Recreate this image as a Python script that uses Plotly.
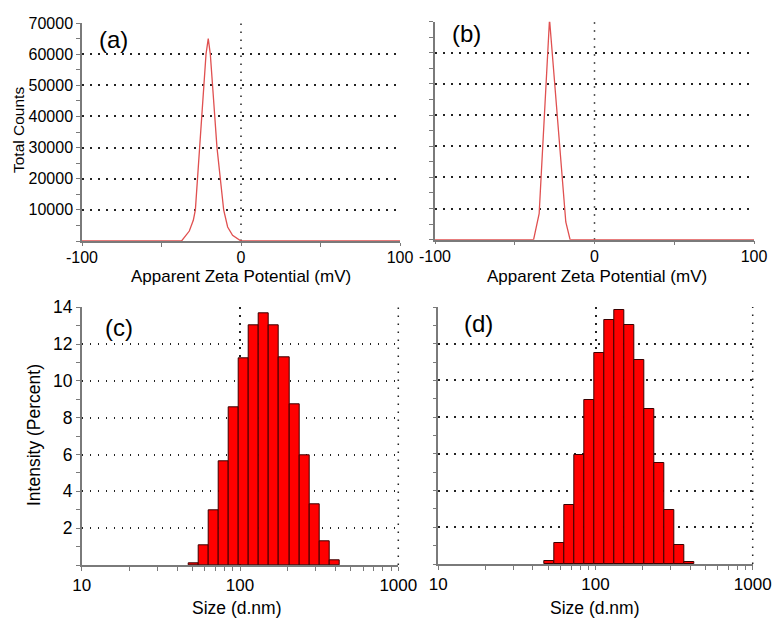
import numpy as np
import plotly.graph_objects as go

# ---------------- data ----------------
zeta_a_mv = [-100, -37.4, -32.5, -30.0, -28.7, -26.0, -23.5, -22.0, -20.6, -19.3, -17.9, -15.1, -10.9, -8.4, -5.3, 0, 100]
counts_a = [0, 0, 3200, 6650, 10000, 30000, 50000, 60000, 65000, 60000, 50000, 30000, 10000, 4500, 1800, 0, 0]

zeta_b_mv = [-100, -38.2, -34.7, -28.2, -25.7, -18.0, -15.3, 100]
counts_b = [0, 0, 8350, 70800, 54900, 5680, 0, 0]

sizes_nm = [50.75, 58.77, 68.06, 78.82, 91.28, 105.7, 122.4, 141.8, 164.2, 190.1, 220.2, 255.0, 295.3, 342.0, 396.1]
intensity_c = [0.07, 1.05, 2.99, 5.62, 8.59, 11.21, 13.04, 13.70, 13.04, 11.30, 8.73, 5.94, 3.30, 1.30, 0.27]
intensity_d = [0.16, 1.13, 3.20, 5.96, 8.95, 11.51, 13.27, 13.82, 13.04, 11.11, 8.47, 5.51, 2.93, 1.04, 0.09]

zeta_ticks = [-100, 0, 100]
zeta_tick_labels = ["-100", "0", "100"]
count_ticks = [10000, 20000, 30000, 40000, 50000, 60000, 70000]
size_ticks = [10, 100, 1000]
size_tick_labels = ["10", "100", "1000"]
intensity_ticks = [2, 4, 6, 8, 10, 12, 14]

panel_labels = ["(a)", "(b)", "(c)", "(d)"]

# ---------------- styling ----------------
W, H = 777, 619
FONT = "Arial, 'Liberation Sans', sans-serif"
AXIS_COLOR = "#7a7a7a"
DOTS = "1.5px,6.5px"
GRID = dict(showgrid=True, gridcolor="#222222", gridwidth=1.5, griddash=DOTS)

def px_x(p):
    return p / W

def px_y(p):
    return 1 - p / H

# bar geometry on log axis
s = np.array(sizes_nm)
step = np.exp(np.mean(np.diff(np.log(s))))
half = np.sqrt(step)
lower = s / half
upper = s * half
widths = upper - lower
offsets = lower - s

fig = go.Figure()

line_style = dict(color="#e05050", width=1.3)
fig.add_trace(go.Scatter(x=zeta_a_mv, y=counts_a, mode="lines", line=line_style,
                         xaxis="x", yaxis="y", showlegend=False))
fig.add_trace(go.Scatter(x=zeta_b_mv, y=counts_b, mode="lines", line=line_style,
                         xaxis="x2", yaxis="y2", showlegend=False))

bar_style = dict(color="#ff0000", line=dict(color="#3a0000", width=1))
fig.add_trace(go.Bar(x=sizes_nm, y=intensity_c, width=widths, offset=offsets,
                     marker=bar_style, xaxis="x3", yaxis="y3", showlegend=False))
fig.add_trace(go.Bar(x=sizes_nm, y=intensity_d, width=widths, offset=offsets,
                     marker=bar_style, xaxis="x4", yaxis="y4", showlegend=False))

def common(fs, tl):
    return dict(ticks="outside", ticklen=tl, tickcolor=AXIS_COLOR, tickwidth=1.2,
                showline=True, linecolor=AXIS_COLOR, linewidth=1.5, zeroline=False,
                automargin=False, tickfont=dict(size=fs, color="#000"))

def zeta_x(domain, anchor):
    return dict(domain=domain, anchor=anchor, range=[-100, 100], tickmode="array",
                tickvals=zeta_ticks, ticktext=zeta_tick_labels, showgrid=False,
                layer="below traces", ticklabelstandoff=-2,
                minor=dict(tickvals=[-50, 50], ticks="outside", ticklen=4, tickcolor=AXIS_COLOR),
                **common(16, 3))

def count_y(domain, anchor, labels):
    return dict(domain=domain, anchor=anchor, range=[0, 70000], tickmode="array",
                tickvals=count_ticks,
                ticktext=[str(v) for v in count_ticks] if labels else [""] * len(count_ticks),
                minor=dict(tickvals=[0, 5000, 15000, 25000, 35000, 45000, 55000, 65000],
                           ticks="outside", ticklen=4, tickcolor=AXIS_COLOR, showgrid=False),
                **GRID, **common(16, 4))

def size_x(domain, anchor):
    minor_vals = [20, 30, 40, 50, 60, 70, 80, 90, 200, 300, 400, 500, 600, 700, 800, 900]
    return dict(domain=domain, anchor=anchor, type="log", range=[1, 3], tickmode="array",
                tickvals=size_ticks, ticktext=size_tick_labels,
                minor=dict(tickvals=minor_vals, ticks="outside", ticklen=4, tickcolor=AXIS_COLOR,
                           showgrid=False),
                **GRID, **common(17, 4))

def intensity_y(domain, anchor, labels):
    return dict(domain=domain, anchor=anchor, range=[0, 14], tickmode="array",
                tickvals=intensity_ticks,
                ticktext=[str(v) for v in intensity_ticks] if labels else [""] * len(intensity_ticks),
                minor=dict(tickvals=[0, 1, 3, 5, 7, 9, 11, 13], ticks="outside", ticklen=4,
                           tickcolor=AXIS_COLOR, showgrid=False),
                **GRID, **common(17.5, 4))

dom_a_x = [px_x(82), px_x(400)]
dom_a_y = [px_y(241), px_y(23)]
dom_b_x = [px_x(435), px_x(754)]
dom_b_y = [px_y(239.7), px_y(21.7)]
dom_c_x = [px_x(81.7), px_x(398.3)]
dom_c_y = [px_y(565), px_y(307.3)]
dom_d_x = [px_x(438.3), px_x(752.7)]
dom_d_y = [px_y(564), px_y(307)]

fig.update_layout(
    template="none",
    width=W, height=H, autosize=False,
    margin=dict(l=0, r=0, t=0, b=0, pad=0, autoexpand=False),
    paper_bgcolor="white", plot_bgcolor="white",
    font=dict(family=FONT, size=16, color="#000"),
    xaxis=zeta_x(dom_a_x, "y"),
    yaxis=count_y(dom_a_y, "x", True),
    xaxis2=zeta_x(dom_b_x, "y2"),
    yaxis2=count_y(dom_b_y, "x2", False),
    xaxis3=size_x(dom_c_x, "y3"),
    yaxis3=intensity_y(dom_c_y, "x3", True),
    xaxis4=size_x(dom_d_x, "y4"),
    yaxis4=intensity_y(dom_d_y, "x4", False),
    bargap=0,
    showlegend=False,
)

# vertical dotted lines: 0 mV in zeta panels, right edge (1000 nm) in size panels
for xr, yr in [("x", "y"), ("x2", "y2")]:
    fig.add_shape(type="line", xref=xr, yref=yr + " domain", x0=0, x1=0, y0=0, y1=1,
                  line=dict(color="#222222", width=1.5, dash=DOTS), layer="below")
for xr, yr in [("x3", "y3"), ("x4", "y4")]:
    fig.add_shape(type="line", xref=xr + " domain", yref=yr + " domain", x0=1, x1=1, y0=0, y1=1,
                  line=dict(color="#222222", width=1.5, dash=DOTS), layer="below")

ann = []
label_pos = [(97, 39), (450, 33), (103, 327), (462, 323)]
for txt, (x, y) in zip(panel_labels, label_pos):
    ann.append(dict(text=txt, x=px_x(x), y=px_y(y), xref="paper", yref="paper",
                    xanchor="left", yanchor="middle", showarrow=False, font=dict(size=24)))

titles = [
    ("Total Counts", 19, 130, -90, 15.5),
    ("Apparent Zeta Potential (mV)", 241, 276, 0, 17),
    ("Apparent Zeta Potential (mV)", 597, 276, 0, 17),
    ("Intensity (Percent)", 34, 435, -90, 17.5),
    ("Size (d.nm)", 236, 608, 0, 17.5),
    ("Size (d.nm)", 594, 608, 0, 17.5),
]
for txt, x, y, rot, fs in titles:
    ann.append(dict(text=txt, x=px_x(x), y=px_y(y), xref="paper", yref="paper",
                    xanchor="center", yanchor="middle", showarrow=False, textangle=rot,
                    font=dict(size=fs)))
fig.update_layout(annotations=ann)

fig.write_html("out.html", config={"responsive": False, "displayModeBar": False},
               post_script="document.body.style.margin='0px';")
